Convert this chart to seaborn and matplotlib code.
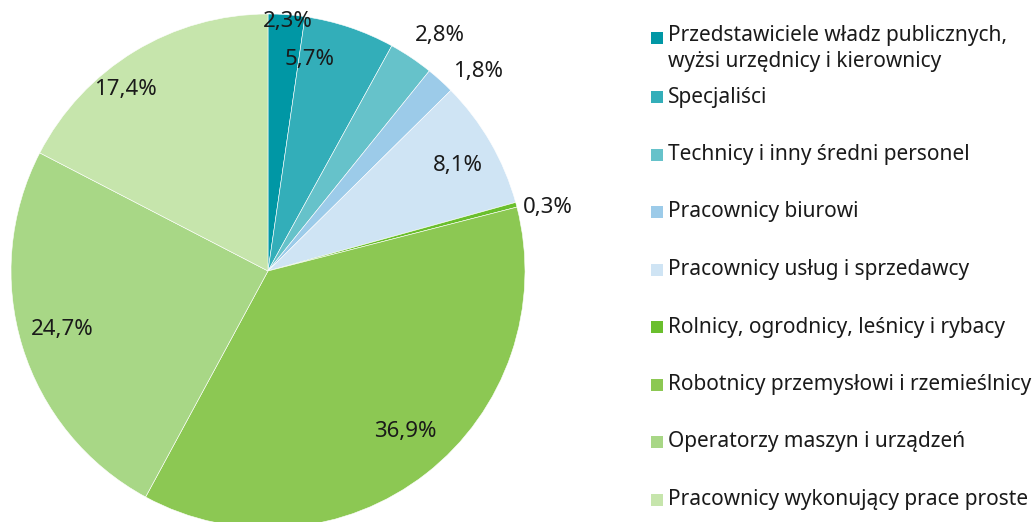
import matplotlib
matplotlib.use("Agg")
import matplotlib.pyplot as plt
import matplotlib.patches as mpatches
import seaborn as sns

sns.set_theme(style="white")
plt.rcParams['font.family'] = ['Noto Sans', 'DejaVu Sans']

# data
categories = [
    'Przedstawiciele władz publicznych,\nwyżsi urzędnicy i kierownicy',
    'Specjaliści',
    'Technicy i inny średni personel',
    'Pracownicy biurowi',
    'Pracownicy usług i sprzedawcy',
    'Rolnicy, ogrodnicy, leśnicy i rybacy',
    'Robotnicy przemysłowi i rzemieślnicy',
    'Operatorzy maszyn i urządzeń',
    'Pracownicy wykonujący prace proste',
]
shares = [2.3, 5.7, 2.8, 1.8, 8.1, 0.3, 36.9, 24.7, 17.4]
colors = ['#0097a5', '#33aeb9', '#66c2ca', '#9ccbe9', '#cfe4f4',
          '#6abf2d', '#8cc853', '#a8d786', '#c6e5ac']
pct_labels = [f"{v:.1f}%".replace('.', ',') for v in shares]

W, H = 1032, 522
fig = plt.figure(figsize=(W / 100, H / 100), dpi=100)

# pie: centre (268, 271) px, radius 257 px
cx, cy, r = 268, 271, 257
ax = fig.add_axes([(cx - r) / W, (H - cy - r) / H, 2 * r / W, 2 * r / H])
wedges, _ = ax.pie(shares, colors=colors, startangle=90, counterclock=False,
                   radius=1, wedgeprops=dict(edgecolor='white', linewidth=0.4))
ax.set_xlim(-1, 1)
ax.set_ylim(-1, 1)
ax.set_aspect('equal')
ax.axis('off')

# label positions (pixels), placed like the original
label_px = [(288, 22), (310, 60), (440, 35), (478, 72), (458, 165),
            (548, 207), (405, 432), (62, 330), (125, 90)]
for txt, (px, py) in zip(pct_labels, label_px):
    ax.text((px - cx) / r, (cy - py) / r, txt, ha='center', va='center',
            fontsize=16, color='#1a1a1a', clip_on=False)

# legend drawn by hand
leg_y = [38] + [97 + 57.5 * i for i in range(len(categories) - 1)]
sq = 12
for name, col, y in zip(categories, colors, leg_y):
    fig.patches.append(mpatches.Rectangle((651 / W, (H - y - sq / 2) / H), sq / W, sq / H,
                                          transform=fig.transFigure, facecolor=col,
                                          edgecolor='none'))
    if '\n' in name:
        fig.text(668 / W, (H - 25) / H, name, ha='left', va='top',
                 fontsize=15, color='#1a1a1a', linespacing=1.3)
    else:
        fig.text(668 / W, (H - y) / H, name, ha='left', va='center',
                 fontsize=15, color='#1a1a1a')

fig.savefig('out.png', dpi=100, facecolor='white')
